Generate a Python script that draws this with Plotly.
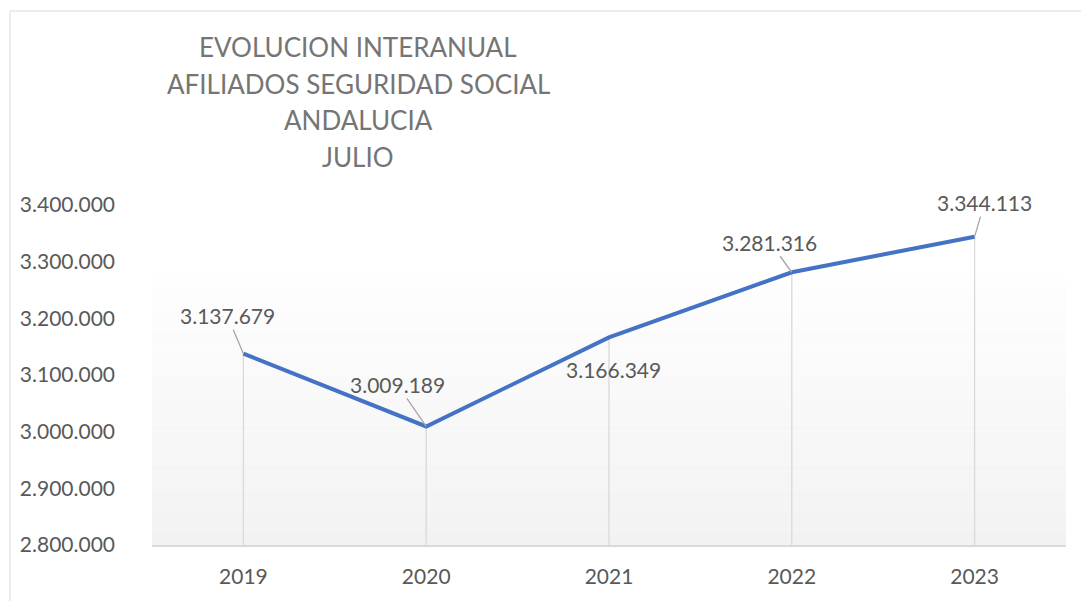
import plotly.graph_objects as go

years = ["2019", "2020", "2021", "2022", "2023"]
afiliados = [3137679, 3009189, 3166349, 3281316, 3344113]
label_text = ["3.137.679", "3.009.189", "3.166.349", "3.281.316", "3.344.113"]
y_tick_vals = [2800000, 2900000, 3000000, 3100000, 3200000, 3300000, 3400000]
y_tick_text = ["2.800.000", "2.900.000", "3.000.000", "3.100.000", "3.200.000", "3.300.000", "3.400.000"]
title_lines = ["EVOLUCION INTERANUAL", "AFILIADOS SEGURIDAD SOCIAL", "ANDALUCIA", "JULIO"]

# label offsets (pixels) from points, and whether a leader line is shown
label_ax = [-16, -29, 4, -22, 10]
label_ay = [-38, -42, 32, -30, -34]
label_leader = [True, True, False, True, True]

FONT = "Lato"
TXT = "#595959"
Y0 = y_tick_vals[0]

# plot area in pixels
PL, PR, PT, PB = 152, 1066, 205, 545
W, H = 1081, 601
def px_x(p):
    return (p - PL) / (PR - PL)
def px_y(p):
    return (PB - p) / (PB - PT)

fig = go.Figure()

# drop lines
dx, dy = [], []
for i, v in enumerate(afiliados):
    dx += [i, i, None]
    dy += [v, Y0, None]
fig.add_trace(go.Scatter(x=dx, y=dy, mode="lines",
                         line=dict(color="#d9d9d9", width=1.3),
                         hoverinfo="skip", showlegend=False))

fig.add_trace(go.Scatter(x=list(range(len(years))), y=afiliados, mode="lines",
                         line=dict(color="#4472C4", width=4),
                         showlegend=False))

shapes = []
# plot-area gradient (bands)
n = 40
top = px_y(278)
for i in range(n):
    t = (i + 0.5) / n
    g = round(254 - (254 - 242) * (1 - t))
    shapes.append(dict(type="rect", xref="paper", yref="paper",
                       x0=0, x1=1, y0=top * i / n, y1=top * (i + 1) / n,
                       fillcolor=f"rgb({g},{g},{g})", line=dict(width=0),
                       layer="below"))
# outer chart border
shapes.append(dict(type="rect", xref="paper", yref="paper",
                   x0=px_x(10), x1=px_x(1090), y0=px_y(610), y1=px_y(11),
                   line=dict(color="#d9d9d9", width=1), fillcolor="rgba(0,0,0,0)",
                   layer="below"))

annotations = []
for i, (v, t, ax, ay, ld) in enumerate(zip(afiliados, label_text, label_ax, label_ay, label_leader)):
    annotations.append(dict(x=i, y=v, xref="x", yref="y", text=t,
                            showarrow=True, ax=ax, ay=ay, arrowhead=0,
                            arrowwidth=1.3, standoff=0,
                            arrowcolor="#a6a6a6" if ld else "rgba(0,0,0,0)",
                            font=dict(family=FONT, size=21, color=TXT)))

title_y = [47, 84, 120, 157]
for line, yy in zip(title_lines, title_y):
    annotations.append(dict(x=px_x(358), y=px_y(yy), xref="paper", yref="paper",
                            text=line, showarrow=False, xanchor="center", yanchor="middle",
                            font=dict(family=FONT, size=26, color="#757575")))

fig.update_layout(
    width=W, height=H,
    margin=dict(l=PL, r=W - PR, t=PT, b=H - PB),
    paper_bgcolor="white", plot_bgcolor="rgba(0,0,0,0)",
    xaxis=dict(tickmode="array", tickvals=list(range(len(years))), ticktext=years,
               showgrid=False, zeroline=False,
               showline=True, linecolor="#d9d9d9", linewidth=1.5,
               ticks="", ticklabelstandoff=12,
               tickfont=dict(family=FONT, size=21, color=TXT),
               range=[-0.5, 4.5]),
    yaxis=dict(range=[2800000, 3400000], tickvals=y_tick_vals, ticktext=y_tick_text,
               showgrid=False, zeroline=False, showline=False, ticks="",
               ticklabelstandoff=36,
               tickfont=dict(family=FONT, size=21, color=TXT)),
    shapes=shapes, annotations=annotations, showlegend=False,
)

fig.write_html("out.html", config={"displayModeBar": False},
               post_script="document.body.style.margin='0px';")
